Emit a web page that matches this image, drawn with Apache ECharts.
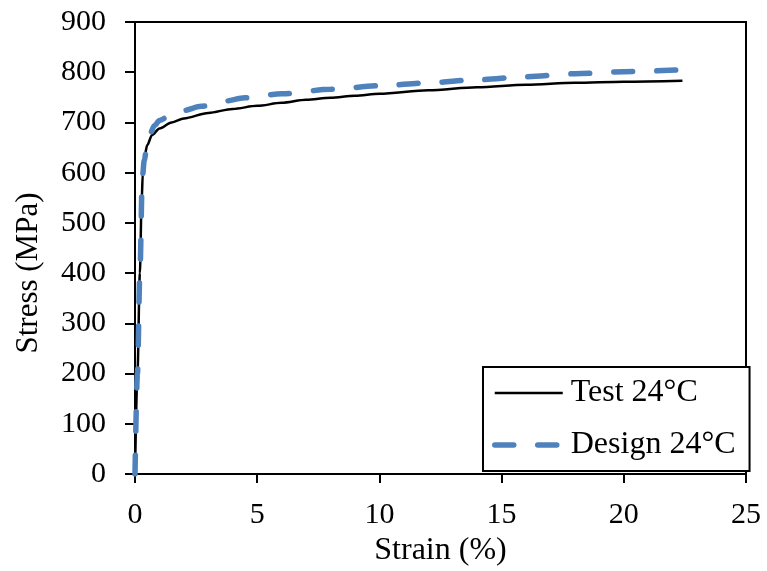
<!DOCTYPE html>
<html>
<head>
<meta charset="utf-8">
<script src="https://cdn.jsdelivr.net/npm/echarts@6/dist/echarts.min.js"></script>
<style>html,body{margin:0;padding:0;background:#fff;}#c{width:767px;height:571px;}</style>
</head>
<body>
<div id="c"></div>
<script>
const testStrain = [0, 0.1, 0.2, 0.27, 0.32, 0.4, 0.5, 0.7, 1.0, 1.5, 2, 3, 4, 5, 6, 7, 8, 9, 10, 12, 14, 16, 18, 20, 22.4];
const testStress = [0, 200, 400, 540, 600, 635, 655, 675, 688, 700, 708, 719, 727, 733, 739, 745, 749, 753, 757, 764, 770, 775, 779, 781, 783];
const designStrain = [0, 0.1, 0.2, 0.3, 0.38, 0.48, 0.6, 0.8, 1.0, 1.5, 2, 2.7, 3.6, 4.5, 6, 8, 10, 12, 14, 16, 18, 20, 22.4];
const designStress = [0, 200, 400, 590, 625, 650, 676, 694, 704, 716, 724, 732, 742, 749, 757, 766, 773, 779, 785, 791, 797, 801, 805];
const xTicks = [0, 5, 10, 15, 20, 25];
const yTicks = [0, 100, 200, 300, 400, 500, 600, 700, 800, 900];
const seriesNames = ['Test 24°C', 'Design 24°C'];

const pairs = (xs, ys) => xs.map((x, i) => [x, ys[i]]);
const font = 'Liberation Serif, Times New Roman, serif';
const testLine = { color: '#000', width: 2.5 };
const designLine = { color: '#4F81BD', width: 5.5, type: [19, 24], cap: 'round' };
const chart = echarts.init(document.getElementById('c'));
chart.setOption({
  animation: false,
  textStyle: { fontFamily: font },
  grid: { left: 135, right: 21, top: 22, bottom: 97, outerBoundsMode: 'none', containLabel: false, show: true, borderColor: '#000', borderWidth: 2, backgroundColor: 'transparent' },
  legend: {
    orient: 'vertical', left: 483, top: 367,
    padding: [10, 14, 10, 9], itemGap: 20,
    itemWidth: 68, itemHeight: 14,
    borderColor: '#000', borderWidth: 2, backgroundColor: '#fff', borderRadius: 0,
    itemStyle: { opacity: 0 },
    textStyle: { fontFamily: font, fontSize: 32, color: '#000', padding: [0, 0, 0, 3] },
    data: [
      { name: seriesNames[0], lineStyle: testLine },
      { name: seriesNames[1], lineStyle: designLine }
    ]
  },
  xAxis: {
    type: 'value', min: xTicks[0], max: xTicks[xTicks.length - 1], interval: 5,
    name: 'Strain (%)', nameLocation: 'middle', nameGap: 60,
    nameTextStyle: { fontFamily: font, fontSize: 32, color: '#000' },
    axisLine: { show: true, lineStyle: { color: '#000', width: 2 } },
    axisTick: { show: true, inside: false, length: 9, lineStyle: { color: '#000', width: 2 } },
    axisLabel: { fontFamily: font, fontSize: 30, color: '#000', margin: 26 },
    splitLine: { show: false }
  },
  yAxis: {
    type: 'value', min: yTicks[0], max: yTicks[yTicks.length - 1], interval: 100,
    name: 'Stress (MPa)', nameLocation: 'middle', nameGap: 91,
    nameTextStyle: { fontFamily: font, fontSize: 31, color: '#000', padding: [0, 50, 0, 0] },
    axisLine: { show: true, lineStyle: { color: '#000', width: 2 } },
    axisTick: { show: true, inside: false, length: 10, lineStyle: { color: '#000', width: 2 } },
    axisLabel: { fontFamily: font, fontSize: 30, color: '#000', margin: 29 },
    splitLine: { show: false }
  },
  series: [
    {
      name: seriesNames[0], type: 'line', data: pairs(testStrain, testStress),
      showSymbol: false, symbol: 'none', smooth: 0.3, smoothMonotone: 'x',
      lineStyle: testLine, itemStyle: { color: '#000' }, z: 3
    },
    {
      name: seriesNames[1], type: 'line', data: pairs(designStrain, designStress),
      showSymbol: false, symbol: 'none', smooth: 0.3, smoothMonotone: 'x',
      lineStyle: designLine, itemStyle: { color: '#4F81BD' }, z: 4
    }
  ]
});
</script>
</body>
</html>
